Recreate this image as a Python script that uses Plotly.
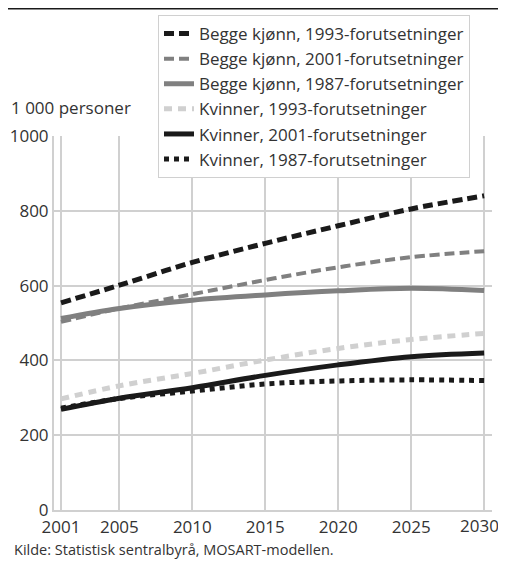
import plotly.graph_objects as go

years = [2001, 2005, 2010, 2015, 2020, 2025, 2030]

begge_1993 = [554, 601, 662, 713, 760, 805, 840]
begge_2001 = [503, 539, 577, 615, 649, 676, 692]
begge_1987 = [512, 539, 561, 575, 586, 593, 587]
kvinner_1993 = [297, 332, 365, 401, 432, 456, 472]
kvinner_2001 = [269, 299, 327, 360, 388, 410, 420]
kvinner_1987 = [272, 298, 318, 337, 345, 348, 346]

series = [
    ("Begge kjønn, 1993-forutsetninger", begge_1993, "#1a1a1a", "10px,5px", 5),
    ("Begge kjønn, 2001-forutsetninger", begge_2001, "#808080", "10px,5px", 4),
    ("Begge kjønn, 1987-forutsetninger", begge_1987, "#808080", "solid", 5),
    ("Kvinner, 1993-forutsetninger", kvinner_1993, "#d0d0d0", "8px,6px", 5),
    ("Kvinner, 2001-forutsetninger", kvinner_2001, "#1a1a1a", "solid", 5),
    ("Kvinner, 1987-forutsetninger", kvinner_1987, "#1a1a1a", "5px,5px", 5),
]

x_ticks = [2001, 2005, 2010, 2015, 2020, 2025, 2030]
y_ticks = [0, 200, 400, 600, 800, 1000]

font_family = "Open Sans"
text_color = "#333333"

# the page puts the figure 8px in from the top-left corner,
# so all pixel positions below are figure pixels (page pixel - 8)
W, H = 498, 557
L, R, T, B = 46, 484, 128, 502
PW, PH = R - L, B - T


def px(x):
    return (x - L) / PW


def py(y):
    return (B - y) / PH


fig = go.Figure()
for name, vals, color, dash, width in series:
    fig.add_trace(go.Scatter(
        x=years, y=vals, mode="lines", name=name,
        line=dict(color=color, dash=dash, width=width, shape="spline"),
    ))

# last year label sits a little left of its gridline so it stays on the page
tick_text = [str(v) for v in x_ticks[:-1]] + [""]

fig.update_layout(
    width=W, height=H,
    margin=dict(l=L, r=W - R, t=T, b=H - B, autoexpand=False),
    paper_bgcolor="white", plot_bgcolor="white",
    font=dict(family=font_family, size=17, color=text_color),
    showlegend=True,
    legend=dict(
        x=px(150), y=py(7), xanchor="left", yanchor="top",
        bgcolor="white", bordercolor="#d0d0d0", borderwidth=1,
        font=dict(family=font_family, size=17, color=text_color),
        itemwidth=30, tracegroupgap=0,
    ),
    xaxis=dict(
        range=[2000.52, 2030.54], tickmode="array", tickvals=x_ticks,
        ticktext=tick_text,
        showgrid=True, gridcolor="#d0d0d0", gridwidth=2,
        showline=True, linecolor="#d0d0d0", linewidth=2,
        ticks="", zeroline=False, tickfont=dict(size=17),
        ticklabelstandoff=1,
    ),
    yaxis=dict(
        range=[0, 1000], tickmode="array", tickvals=y_ticks,
        showgrid=True, gridcolor="#d0d0d0", gridwidth=2,
        showline=True, linecolor="#d0d0d0", linewidth=2,
        ticks="", zeroline=False, tickfont=dict(size=17),
    ),
)

fig.add_annotation(
    text=str(x_ticks[-1]), xref="x", yref="paper",
    x=x_ticks[-1], xshift=-5, y=py(517), xanchor="center", yanchor="middle",
    showarrow=False, font=dict(size=17, color=text_color),
)

# top rule below the (cropped) heading
fig.add_shape(type="line", xref="paper", yref="paper",
              x0=px(0), x1=px(492), y0=py(0.5), y1=py(0.5),
              line=dict(color="#1a1a1a", width=2))

fig.add_annotation(
    text="1 000 personer", xref="paper", yref="paper",
    x=px(1), y=py(113), xanchor="left", yanchor="bottom",
    showarrow=False, font=dict(size=17, color=text_color),
)
fig.add_annotation(
    text="Kilde: Statistisk sentralbyrå, MOSART-modellen.", xref="paper", yref="paper",
    x=px(4), y=py(541), xanchor="left", yanchor="middle",
    showarrow=False, font=dict(size=14.5, color=text_color),
)

fig.write_html("out.html")
